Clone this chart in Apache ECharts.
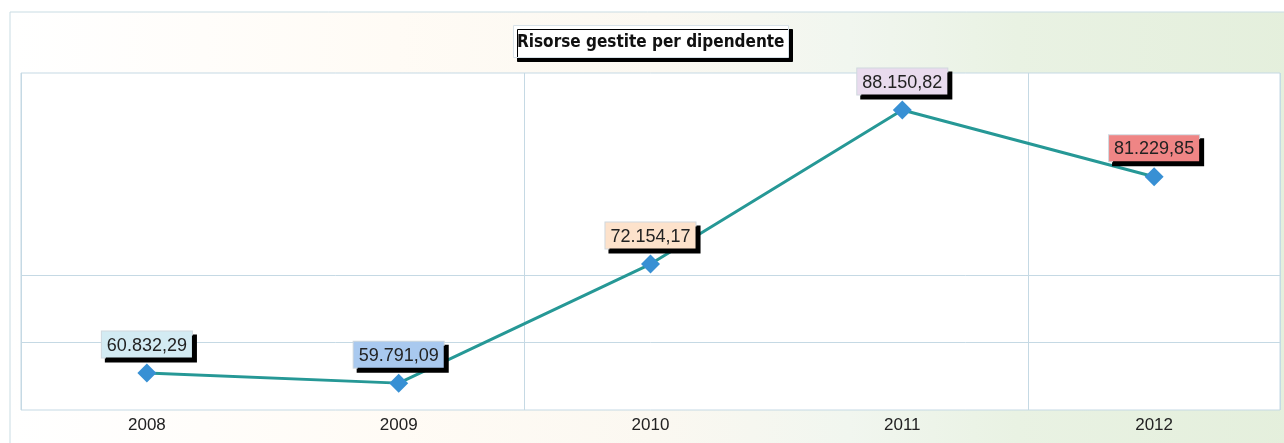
<!DOCTYPE html>
<html>
<head>
<meta charset="utf-8">
<script src="https://cdn.jsdelivr.net/npm/echarts@6/dist/echarts.min.js"></script>
<style>
  html, body { margin: 0; padding: 0; background: #fff; }
  #chart_div { width: 1284px; height: 443px; }
</style>
</head>
<body>
<div id="chart_div"></div>
<script>
// Risorse gestite per dipendente
var years = ['2008', '2009', '2010', '2011', '2012'];
var values = [60832.29, 59791.09, 72154.17, 88150.82, 81229.85];
var labelColors = ['#d3ebf3', '#a9c9ef', '#fde2cb', '#e9dbee', '#ef8585'];

// italian number format: 60.832,29
function itFormat(v) {
  var parts = v.toFixed(2).split('.');
  return parts[0].replace(/\B(?=(\d{3})+(?!\d))/g, '.') + ',' + parts[1];
}

var chart = echarts.init(document.getElementById('chart_div'));

var points = values.map(function(v, i) {
  return {
    value: v,
    label: { backgroundColor: labelColors[i] }
  };
});

var option = {
  backgroundColor: '#fff',
  animation: false,
  graphic: [
    {
      type: 'rect',
      z: -10,
      shape: { x: 10, y: 12, width: 1290, height: 450 },
      style: {
        fill: {
          type: 'linear', x: 0, y: 0, x2: 1, y2: 0,
          colorStops: [
            { offset: 0, color: '#ffffff' },
            { offset: 0.3, color: '#fffbf5' },
            { offset: 0.5, color: '#fbf8f1' },
            { offset: 0.65, color: '#f1f6ef' },
            { offset: 0.78, color: '#e9f2e3' },
            { offset: 1, color: '#e4efdc' }
          ]
        },
        stroke: '#c9dce3',
        lineWidth: 1
      }
    }
  ],
  title: {
    text: 'Risorse gestite per dipendente',
    left: 513,
    top: 25,
    backgroundColor: '#ffffff',
    borderColor: '#d8e2e8',
    borderWidth: 1,
    padding: [9, 4, 7, 4],
    shadowColor: '#000',
    shadowOffsetX: 4,
    shadowOffsetY: 4,
    shadowBlur: 0,
    textStyle: {
      fontFamily: 'DejaVu Sans Condensed, Liberation Sans, sans-serif',
      fontWeight: 'bold',
      fontSize: 17,
      color: '#111'
    }
  },
  grid: {
    left: 21,
    right: 4,
    top: 73,
    bottom: 33,
    show: true,
    backgroundColor: '#ffffff',
    borderColor: '#c5d9e4',
    borderWidth: 1
  },
  xAxis: {
    type: 'category',
    data: years,
    boundaryGap: true,
    axisLine: { show: false },
    axisTick: { show: false },
    axisLabel: {
      margin: 7,
      fontFamily: 'Liberation Sans, Arial, sans-serif',
      fontSize: 17,
      color: '#222'
    },
    splitLine: {
      show: true,
      interval: 1,
      lineStyle: { color: '#c5d9e4', width: 1 }
    }
  },
  yAxis: {
    type: 'value',
    min: 57000,
    max: 92000,
    interval: 7000,
    axisLine: { show: false },
    axisTick: { show: false },
    axisLabel: { show: false },
    splitLine: {
      show: true,
      lineStyle: {
        color: ['transparent', '#c5d9e4', '#c5d9e4', 'transparent', 'transparent', 'transparent'],
        width: 1
      }
    }
  },
  series: [
    {
      name: 'Risorse gestite per dipendente',
      type: 'line',
      data: points,
      symbol: 'diamond',
      symbolSize: 19,
      itemStyle: { color: '#3890d4' },
      lineStyle: { color: '#269896', width: 3 },
      label: {
        show: true,
        position: 'top',
        distance: 6,
        formatter: function(p) { return itFormat(p.value); },
        fontFamily: 'Liberation Sans, Arial, sans-serif',
        fontSize: 18,
        color: '#222',
        padding: [5, 5, 3, 5],
        borderColor: '#d0d8de',
        borderWidth: 1,
        shadowColor: '#000',
        shadowOffsetX: 4,
        shadowOffsetY: 4,
        shadowBlur: 0
      }
    }
  ]
};

chart.setOption(option);
</script>
</body>
</html>
